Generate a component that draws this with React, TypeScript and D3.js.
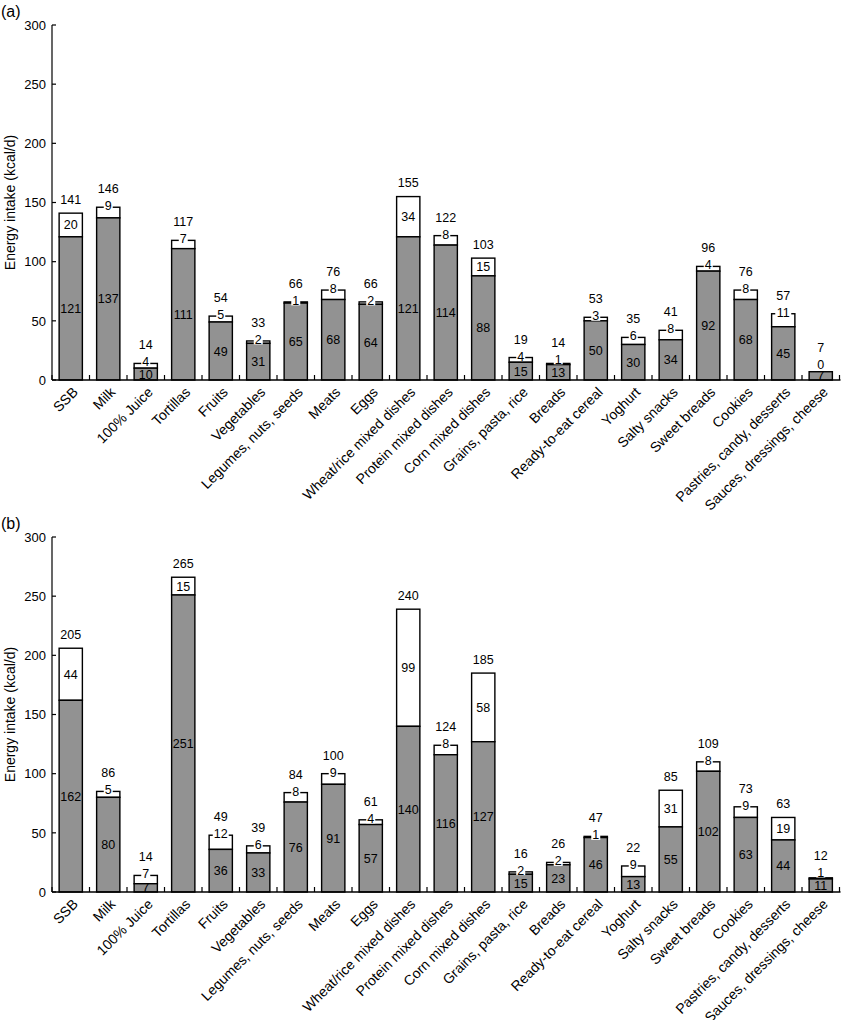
import React from "react";
import * as d3 from "d3";

const categories = [
  "SSB", "Milk", "100% Juice", "Tortillas", "Fruits", "Vegetables",
  "Legumes, nuts, seeds", "Meats", "Eggs", "Wheat/rice mixed dishes",
  "Protein mixed dishes", "Corn mixed dishes", "Grains, pasta, rice", "Breads",
  "Ready-to-eat cereal", "Yoghurt", "Salty snacks", "Sweet breads", "Cookies",
  "Pastries, candy, desserts", "Sauces, dressings, cheese",
];

const aGrey = [121, 137, 10, 111, 49, 31, 65, 68, 64, 121, 114, 88, 15, 13, 50, 30, 34, 92, 68, 45, 7];
const aWhite = [20, 9, 4, 7, 5, 2, 1, 8, 2, 34, 8, 15, 4, 1, 3, 6, 8, 4, 8, 11, 0];
const aTotal = [141, 146, 14, 117, 54, 33, 66, 76, 66, 155, 122, 103, 19, 14, 53, 35, 41, 96, 76, 57, 7];

const bGrey = [162, 80, 7, 251, 36, 33, 76, 91, 57, 140, 116, 127, 15, 23, 46, 13, 55, 102, 63, 44, 11];
const bWhite = [44, 5, 7, 15, 12, 6, 8, 9, 4, 99, 8, 58, 2, 2, 1, 9, 31, 8, 9, 19, 1];
const bTotal = [205, 86, 14, 265, 49, 39, 84, 100, 61, 240, 124, 185, 16, 26, 47, 22, 85, 109, 73, 63, 12];

const yTicks = [0, 50, 100, 150, 200, 250, 300];

const FONT = "'Liberation Sans', Arial, Helvetica, sans-serif";
const GREY = "#929292";

type PanelProps = {
  top: number;
  tag: string;
  grey: number[];
  white: number[];
  total: number[];
};

function Panel({ top, tag, grey, white, total }: PanelProps) {
  const left = 52;
  const right = 839.5;
  const plotH = 355;
  const y = d3.scaleLinear().domain([0, 300]).range([top + plotH, top]);
  const x = d3
    .scaleBand<string>()
    .domain(categories)
    .range([left, right])
    .paddingInner(0.38)
    .paddingOuter(0.19);
  const bw = x.bandwidth();
  const step = x.step();
  const base = y(0);
  const boundaries = d3.range(categories.length + 1).map((i) => left + i * step);

  return (
    <g>
      <text x={1} y={top - 8} fontSize={16} fontFamily={FONT}>{tag}</text>
      <text
        transform={`translate(15,${(top + base) / 2}) rotate(-90)`}
        textAnchor="middle"
        fontSize={14}
        fontFamily={FONT}
      >
        Energy intake (kcal/d)
      </text>
      {categories.map((c, i) => {
        const x0 = x(c) as number;
        const g = grey[i];
        const w = white[i];
        const yg = y(g);
        const yt = y(g + w);
        const cx = x0 + bw / 2;
        const hW = yg - yt;
        const greyY = (base + yg) / 2;
        let wLabelY: number;
        let wBg = false;
        if (w === 0) {
          wLabelY = yt - 7;
        } else if (hW < 15) {
          wLabelY = Math.min(yt - 1.5, greyY - 13);
          wBg = true;
        } else {
          wLabelY = (yg + yt) / 2;
        }
        const totalY = w === 0 || wBg ? wLabelY - 17 : yt - 14;
        const wStr = String(w);
        const bgW = wStr.length * 7 + 2;
        return (
          <g key={c}>
            <rect x={x0} y={yt} width={bw} height={Math.max(0, yg - yt)} fill="#fff" stroke="#000" strokeWidth={1.4} />
            <rect x={x0} y={yg} width={bw} height={base - yg} fill={GREY} stroke="#000" strokeWidth={1.4} />
            <text x={cx} y={greyY} dy="0.36em" textAnchor="middle" fontSize={12.5} fontFamily={FONT}>
              {g}
            </text>
            {wBg && (
              <rect x={cx - bgW / 2} y={wLabelY - 5} width={bgW} height={10} fill="#fff" />
            )}
            <text x={cx} y={wLabelY} dy="0.36em" textAnchor="middle" fontSize={12.5} fontFamily={FONT}>
              {w}
            </text>
            <text x={cx} y={totalY} dy="0.36em" textAnchor="middle" fontSize={12.5} fontFamily={FONT}>
              {total[i]}
            </text>
            <text
              transform={`translate(${cx + 8},${base + 13}) rotate(-45)`}
              textAnchor="end"
              fontSize={14}
              fontFamily={FONT}
            >
              {c}
            </text>
          </g>
        );
      })}
      <line x1={left} x2={left} y1={top} y2={base} stroke="#000" strokeWidth={1.2} />
      <line x1={left} x2={right + 1} y1={base} y2={base} stroke="#000" strokeWidth={1.4} />
      {yTicks.map((t) => (
        <g key={t}>
          <line x1={left} x2={left + 4} y1={y(t)} y2={y(t)} stroke="#000" strokeWidth={1.2} />
          <text x={46} y={y(t)} dy="0.36em" textAnchor="end" fontSize={13} fontFamily={FONT}>
            {t}
          </text>
        </g>
      ))}
      {boundaries.map((bx, i) => (
        <line key={i} x1={bx} x2={bx} y1={base} y2={base - 5} stroke="#000" strokeWidth={1.2} />
      ))}
    </g>
  );
}

export default function App() {
  return (
    <svg
      width={841}
      height={1020}
      style={{ position: "absolute", left: 0, top: 0, background: "#fff" }}
    >
      <rect x={0} y={0} width={841} height={1020} fill="#fff" />
      <Panel top={25} tag="(a)" grey={aGrey} white={aWhite} total={aTotal} />
      <Panel top={537} tag="(b)" grey={bGrey} white={bWhite} total={bTotal} />
    </svg>
  );
}
